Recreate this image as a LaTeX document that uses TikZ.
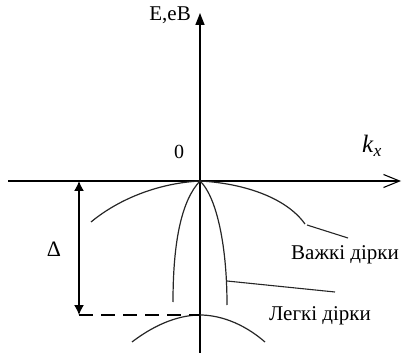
\documentclass[tikz,border=0pt]{standalone}
\usepackage{fontspec}
\setmainfont{Liberation Serif}
\usetikzlibrary{arrows.meta}
\begin{document}
\begin{tikzpicture}[x=1pt,y=-1pt,
  axis/.style={line width=1.4pt,black},
  band/.style={line width=1.2pt,black!85},
  leader/.style={line width=1.1pt,black!85},
  lbl/.style={font=\fontsize{20}{22}\selectfont,inner sep=0pt}]
\useasboundingbox (0,0) rectangle (405,353);
% axes
\coordinate (vb) at (200,353);
\coordinate (vt) at (200,13);
\coordinate (hl) at (8,181);
\coordinate (hr) at (401,181);
\coordinate (o) at (200,181);
\draw[axis,-{Triangle[length=12pt,width=9pt]}] (vb) -- (vt);
\draw[axis,-{Straight Barb[length=16pt,width=13pt,line width=1.1pt]}] (hl) -- (hr);
% labels
\node[lbl,font=\fontsize{21}{24}\selectfont,anchor=east] (E) at (191,15) {E,eB};
\node[lbl] (zero) at (179,152) {0};
\node[lbl,font=\fontsize{25}{28}\selectfont] (kx) at (372,146) {\textit{k}\textsubscript{\textit{x}}};
\node[lbl,font=\fontsize{22}{24}\selectfont] (delta) at (54,249) {Δ};
\node[lbl,font=\fontsize{21}{24}\selectfont] (heavy) at (345,255) {Важкі дірки};
\node[lbl,font=\fontsize{21}{24}\selectfont] (light) at (320,316) {Легкі дірки};
% heavy holes band
\draw[band] (91,222) .. controls (120,198) and (160,183) .. (o)
  .. controls (240,183) and (285,196) .. (305,224);
% light holes band
\draw[band] (173,302) .. controls (173,240) and (182,200) .. (o)
  .. controls (215,195) and (227,240) .. (227,305);
% split-off band
\draw[band] (132,342) .. controls (158,322) and (182,315) .. (200,315)
  .. controls (218,315) and (242,322) .. (265,342);
% leaders
\coordinate (hl1) at (307,225);
\coordinate (hl2) at (348,238);
\draw[leader] (hl1) -- (hl2);
\coordinate (ll1) at (227,281);
\coordinate (ll2) at (335,292);
\draw[leader] (ll1) -- (ll2);
% Delta
\coordinate (d1) at (79,181);
\coordinate (d2) at (79,315);
\coordinate (d3) at (200,315);
\draw[line width=1.4pt,{Latex[length=10pt,width=10pt]}-{Latex[length=10pt,width=10pt]}] (d1) -- (d2);
\draw[line width=1.1pt,dash pattern=on 14pt off 8pt] (d2) -- (d3);
\end{tikzpicture}
\end{document}
